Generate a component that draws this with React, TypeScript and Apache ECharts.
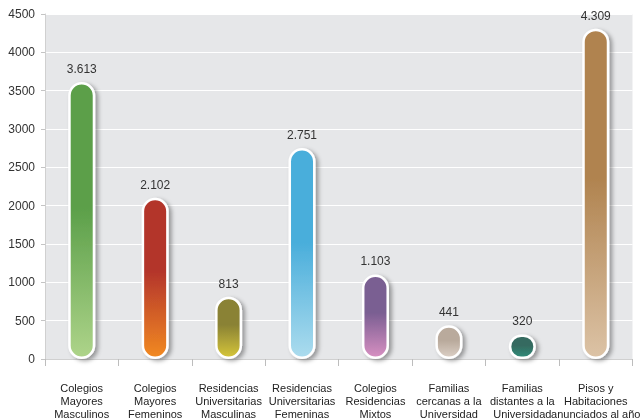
import React, { useEffect, useRef } from "react";
import * as echarts from "echarts";

const categories = [
  "Colegios\nMayores\nMasculinos",
  "Colegios\nMayores\nFemeninos",
  "Residencias\nUniversitarias\nMasculinas",
  "Residencias\nUniversitarias\nFemeninas",
  "Colegios\nResidencias\nMixtos",
  "Familias\ncercanas a la\nUniversidad",
  "Familias\ndistantes a la\nUniversidad",
  "Pisos y\nHabitaciones\nanunciados al año",
];
const values = [3613, 2102, 813, 2751, 1103, 441, 320, 4309];
const topColors = ["#5b9f49", "#b3342c", "#8a8235", "#4aaedb", "#7a5e92", "#b9aa9c", "#356b60", "#b0834f"];
const bottomColors = ["#aed48a", "#f28a22", "#d6c63a", "#acdcee", "#d890c2", "#dcd0c6", "#2f8d7a", "#dcc3a6"];
const yTicks = { min: 0, max: 4500, interval: 500 };

const fmt = (v: number) => String(v).replace(/\B(?=(\d{3})+(?!\d))/g, ".");

export default function App() {
  const ref = useRef<HTMLDivElement>(null);
  useEffect(() => {
    if (!ref.current) return;
    const chart = echarts.init(ref.current, undefined, { renderer: "svg", width: 643, height: 420 });
    const font = "'Liberation Sans', Arial, sans-serif";
    chart.setOption({
      animation: false,
      textStyle: { fontFamily: font },
      grid: {
        left: 45,
        right: 4,
        top: 14,
        bottom: 58,
        show: true,
        backgroundColor: "#e6e7e9",
        borderWidth: 0,
      },
      xAxis: {
        type: "category",
        data: categories,
        axisLine: { show: true, lineStyle: { color: "#d0d0d0", width: 1 } },
        axisTick: { show: true, length: 7, lineStyle: { color: "#bdbdbd" } },
        axisLabel: {
          interval: 0,
          margin: 22,
          color: "#222",
          fontSize: 11,
          lineHeight: 13,
          fontFamily: font,
        },
      },
      yAxis: {
        type: "value",
        min: yTicks.min,
        max: yTicks.max,
        interval: yTicks.interval,
        axisLine: { show: true, lineStyle: { color: "#d0d0d0" } },
        axisTick: { show: true, length: 4, lineStyle: { color: "#c4c4c4" } },
        axisLabel: {
          color: "#333",
          fontSize: 12,
          margin: 10,
          fontFamily: font,
          formatter: (v: number) => String(v),
        },
        splitLine: { show: true, lineStyle: { color: "#ffffff", width: 1.2 } },
      },
      series: [
        {
          type: "bar",
          barWidth: 27,
          data: values.map((v, i) => ({
            value: v,
            itemStyle: {
              color: new echarts.graphic.LinearGradient(0, 0, 0, 1, [
                { offset: 0, color: topColors[i] },
                { offset: 0.45, color: topColors[i] },
                { offset: 1, color: bottomColors[i] },
              ]),
            },
          })),
          itemStyle: {
            borderColor: "#ffffff",
            borderWidth: 2.5,
            borderRadius: 14,
            shadowBlur: 4,
            shadowColor: "rgba(0,0,0,0.35)",
            shadowOffsetX: 3,
            shadowOffsetY: 2,
          },
          label: {
            show: true,
            position: "top",
            distance: 7,
            color: "#333",
            fontSize: 12,
            fontFamily: font,
            formatter: (p: any) => fmt(p.value),
          },
        },
      ],
    });
    return () => chart.dispose();
  }, []);
  return (
    <div
      ref={ref}
      style={{ position: "fixed", left: 0, top: 0, width: 643, height: 420 }}
    />
  );
}
